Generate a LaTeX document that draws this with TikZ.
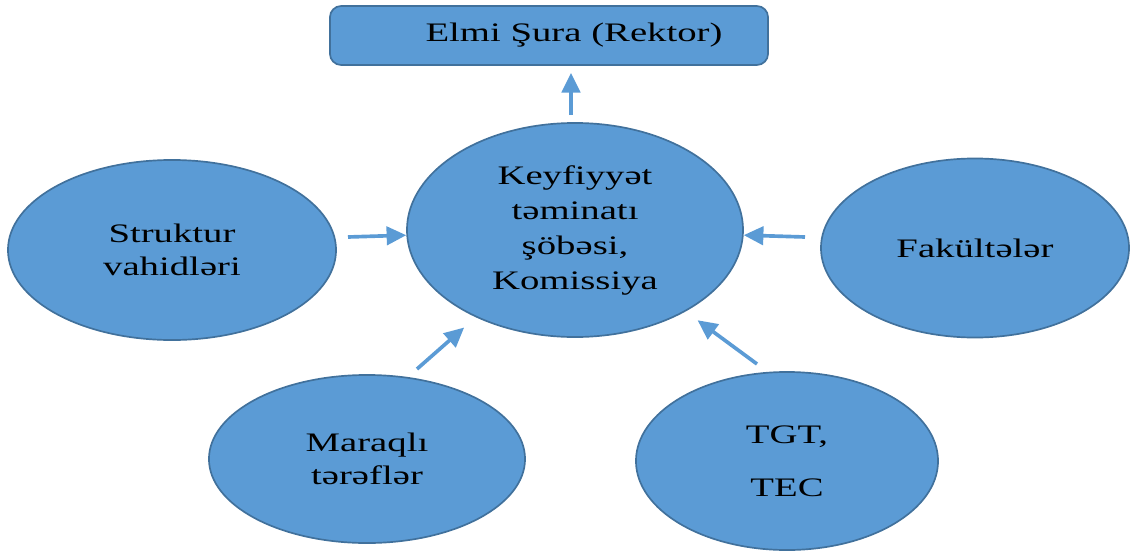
\documentclass[tikz,border=0pt]{standalone}
\usepackage{fontspec}
\setmainfont{Liberation Serif}[FakeStretch=1.45]
\usetikzlibrary{shapes.geometric,arrows.meta}
\definecolor{boxblue}{RGB}{91,155,213}
\definecolor{rimblue}{RGB}{65,113,156}

\begin{document}
\begin{tikzpicture}
[x=0.025cm,y=-0.025cm,
unit/.style={shape=ellipse,fill=boxblue,draw=rimblue,line width=1.2pt,inner sep=0pt,align=center,font=\fontsize{19}{23.5}\selectfont},
topbox/.style={shape=rectangle,rounded corners=8pt,fill=boxblue,draw=rimblue,line width=1.2pt,minimum width=10.95cm,minimum height=1.475cm},
dedge/.style={-{Triangle[length=14pt,width=13pt]},line width=2.6pt,draw=boxblue}]

\useasboundingbox (0,0) rectangle (1131,552);

\node (rk) [topbox,label={[xshift=0.625cm,font=\fontsize{19}{23.5}\selectfont]center:Elmi Şura (Rektor)}] at (549,35.5) {};
\node (kq) [unit,minimum width=8.4cm,minimum height=5.35cm,font=\fontsize{19}{24.9}\selectfont] at (575,230) {Keyfiyyət\\təminatı\\şöbəsi,\\Komissiya};
\node (sv) [unit,minimum width=8.2cm,minimum height=4.5cm] at (172,250) {Struktur\\vahidləri};
\node (fk) [unit,minimum width=7.7cm,minimum height=4.475cm] at (975,248) {Fakültələr};
\node (mt) [unit,minimum width=7.9cm,minimum height=4.2cm] at (367,459) {Maraqlı\\tərəflər};
\node (tt) [unit,minimum width=7.55cm,minimum height=4.45cm] at (787,461) {TGT,\\[14pt]TEC};

\coordinate (a1) at (571,115);
\coordinate (a2) at (348,237);
\coordinate (a3) at (805,237);
\coordinate (a4) at (417,369);
\coordinate (a5) at (757,364);

\draw[dedge,shorten >=5pt] (a1) -- (a1 |- rk.south);
\draw[dedge] (a2) -- (kq);
\draw[dedge] (a3) -- (kq);
\draw[dedge,shorten >=11pt] (a4) -- (kq);
\draw[dedge,shorten >=10.5pt] (a5) -- (kq);

\end{tikzpicture}
\end{document}
